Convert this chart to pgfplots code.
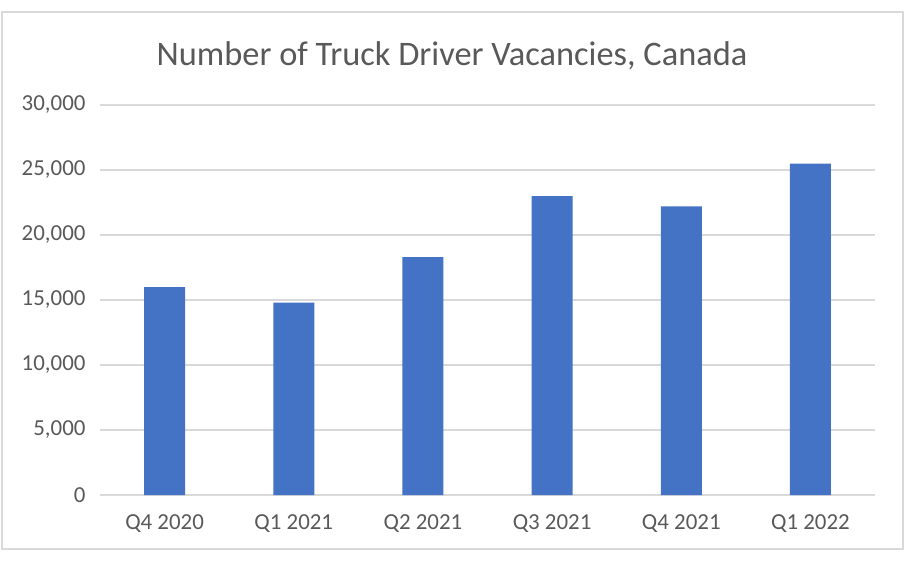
\documentclass[border=0pt]{standalone}
\usepackage{pgfplots}
\pgfplotsset{compat=1.18}
\usepackage{fontspec}
\setmainfont{Carlito}
\definecolor{barblue}{HTML}{4472C4}
\definecolor{gridgray}{HTML}{D9D9D9}
\definecolor{txtgray}{HTML}{595959}
\begin{document}
\begin{tikzpicture}[x=1bp,y=1bp]
\path[use as bounding box] (0,0) rectangle (907,-561);
\draw[gridgray, line width=1.5bp] (2,-12) rectangle (903,-549);
\node[txtgray, font=\fontsize{34.5}{40}\selectfont] at (452,-56) {Number of Truck Driver Vacancies, Canada};
\begin{axis}[
  at={(100bp,-495bp)}, anchor=south west,
  scale only axis, width=775bp, height=390bp,
  xmin=-0.5, xmax=5.5, ymin=0, ymax=30000,
  ytick={0,5000,...,30000},
  xtick=data,
  xticklabels={Q4 2020,Q1 2021,Q2 2021,Q3 2021,Q4 2021,Q1 2022},
  major tick length=0pt,
  axis line style={draw=none},
  ymajorgrids,
  grid style={gridgray, line width=1.2bp},
  /pgf/number format/assume math mode=true,
  /pgf/number format/fixed,
  /pgf/number format/1000 sep={,},
  scaled y ticks=false,
  ticklabel style={font=\fontsize{23}{27}\selectfont, text=txtgray},
  yticklabel style={xshift=-11bp},
  xticklabel style={yshift=-16bp},
  ybar, bar width=41bp,
]
\addplot[fill=barblue, draw=none] coordinates {
  (0,16000) (1,14800) (2,18300) (3,23000) (4,22200) (5,25500)
};
\end{axis}
\end{tikzpicture}
\end{document}
